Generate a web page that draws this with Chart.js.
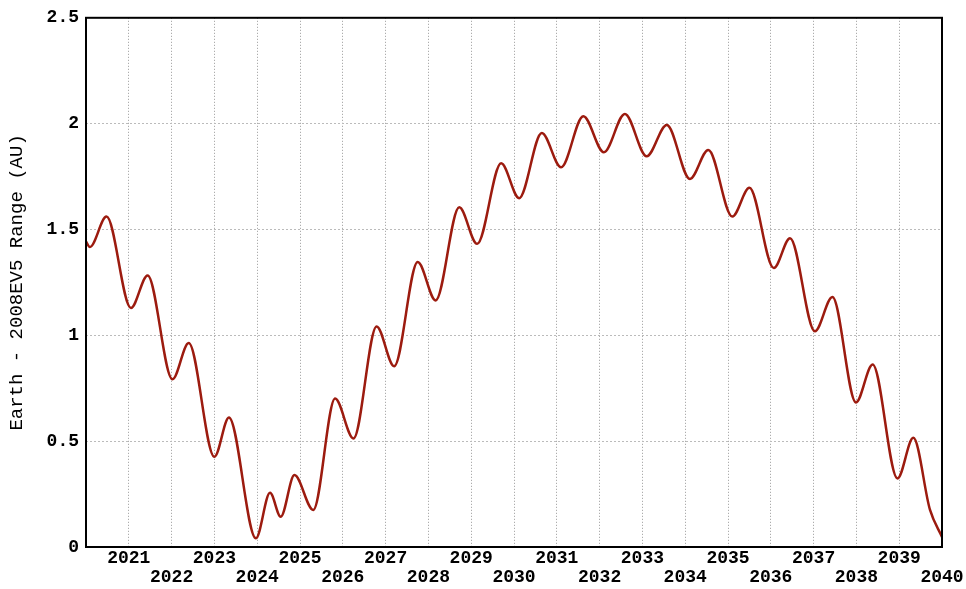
<!DOCTYPE html>
<html>
<head>
<meta charset="utf-8">
<script src="https://cdn.jsdelivr.net/npm/chart.js@4"></script>
<style>
  html, body { margin: 0; padding: 0; background: #fff; }
  #wrap { width: 966px; height: 589px; position: relative; }
</style>
</head>
<body>
<div id="wrap"><canvas id="c"></canvas></div>
<script>
// Data (decimal year, Earth–2008EV5 range in AU)
const years = [2020.0, 2020.09, 2020.48, 2021.05, 2021.44, 2022.02, 2022.40, 2023.00, 2023.34, 2023.97,
  2024.30, 2024.55, 2024.87, 2025.31, 2025.82, 2026.25, 2026.79, 2027.20, 2027.75, 2028.17,
  2028.72, 2029.14, 2029.70, 2030.12, 2030.65, 2031.10, 2031.62, 2032.10, 2032.59, 2033.10,
  2033.57, 2034.11, 2034.54, 2035.10, 2035.50, 2036.07, 2036.45, 2037.03, 2037.44, 2037.99,
  2038.38, 2038.96, 2039.33, 2039.72, 2040.0];
const rangeAU = [1.443, 1.417, 1.561, 1.129, 1.283, 0.792, 0.964, 0.426, 0.612, 0.041,
  0.256, 0.143, 0.340, 0.175, 0.701, 0.513, 1.042, 0.854, 1.346, 1.165,
  1.605, 1.432, 1.813, 1.648, 1.956, 1.794, 2.035, 1.865, 2.046, 1.846,
  1.994, 1.739, 1.876, 1.561, 1.697, 1.318, 1.459, 1.019, 1.181, 0.683,
  0.862, 0.324, 0.516, 0.175, 0.047];
const xMin = 2020, xMax = 2040;
const yMin = 0, yMax = 2.5, yStep = 0.5;
const yTitle = 'Earth - 2008EV5 Range (AU)';

const points = years.map((x, i) => ({ x: x, y: rangeAU[i] }));

const frame = {
  id: 'frame',
  afterDraw(chart) {
    const a = chart.chartArea, ctx = chart.ctx;
    ctx.save();
    ctx.strokeStyle = '#000';
    ctx.lineWidth = 2;
    ctx.strokeRect(a.left, a.top, a.right - a.left, a.bottom - a.top);
    ctx.restore();
  }
};

new Chart(document.getElementById('c'), {
  type: 'line',
  data: {
    datasets: [{
      data: points,
      borderColor: '#9c1b0f',
      borderWidth: 2.5,
      pointRadius: 0,
      fill: false,
      cubicInterpolationMode: 'monotone'
    }]
  },
  options: {
    responsive: true,
    maintainAspectRatio: false,
    animation: false,
    layout: { padding: { top: 17, right: 24, left: 0, bottom: 0 } },
    plugins: { legend: { display: false }, tooltip: { enabled: false } },
    scales: {
      x: {
        type: 'linear',
        min: xMin, max: xMax,
        afterFit(s) { s.height = 42; },
        border: { display: false, dash: [1, 2] },
        grid: { color: '#999', lineWidth: 1, drawTicks: false },
        ticks: {
          stepSize: 1,
          autoSkip: false,
          maxRotation: 0,
          padding: 2,
          color: '#000',
          font: { family: 'Liberation Mono', size: 18, weight: 'bold', lineHeight: 1.05 },
          callback(v) {
            if (v === xMin) return '';
            return (v % 2 === 1) ? [String(v)] : ['', String(v)];
          }
        }
      },
      y: {
        min: yMin, max: yMax,
        afterFit(s) { s.width = 86; },
        border: { display: false, dash: [2, 2] },
        grid: { color: '#bbb', lineWidth: 1, drawTicks: false },
        ticks: {
          stepSize: yStep,
          padding: 7,
          color: '#000',
          font: { family: 'Liberation Mono', size: 18, weight: 'bold' },
          callback(v) { return String(Math.round(v * 10) / 10); }
        },
        title: {
          display: true,
          text: yTitle,
          color: '#000',
          padding: { top: 6, bottom: 0 },
          font: { family: 'Liberation Mono', size: 19, weight: 'normal', lineHeight: 1.2 }
        }
      }
    }
  },
  plugins: [frame]
});
</script>
</body>
</html>
